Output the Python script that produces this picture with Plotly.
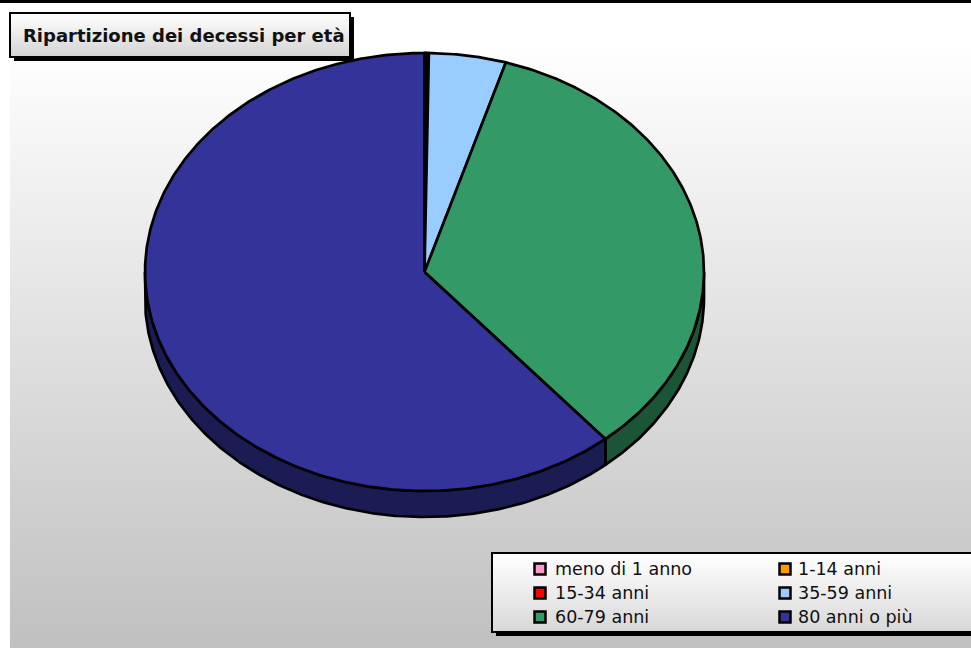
import numpy as np
import plotly.graph_objects as go

# ---------------- data ----------------
categories = ["meno di 1 anno", "1-14 anni", "15-34 anni", "35-59 anni", "60-79 anni", "80 anni o più"]
values = [0.05, 0.05, 0.15, 4.45, 34.1, 61.2]   # percent of deaths
colors = ["#FF99CC", "#FF9900", "#FF0000", "#99CCFF", "#339966", "#333399"]
side_colors = ["#8C5470", "#8C5400", "#8C0000", "#54708C", "#1C5438", "#1C1C54"]
title_text = "Ripartizione dei decessi per età"

# ---------------- geometry (pixel-mapped axes) ----------------
W, H = 971, 648
CX, CY, RX, RY, DEPTH = 424.5, 272.0, 279.5, 219.0, 26.0
LW = 2.7


def rim(theta, dy=0.0):
    theta = np.asarray(theta)
    return CX + RX * np.sin(theta), CY - RY * np.cos(theta) + dy


fracs = np.array(values, dtype=float) / float(sum(values))
ends = np.cumsum(fracs) * 2 * np.pi
starts = ends - fracs * 2 * np.pi

fig = go.Figure()

# side walls (visible lower half only)
for i in range(len(values)):
    a0 = max(starts[i], np.pi / 2)
    a1 = min(ends[i], 3 * np.pi / 2)
    if a1 <= a0:
        continue
    n = max(2, int((a1 - a0) / (2 * np.pi) * 720))
    t = np.linspace(a0, a1, n)
    xt, yt = rim(t)
    xb, yb = rim(t[::-1], DEPTH)
    xs = np.concatenate([xt, xb, xt[:1]])
    ys = np.concatenate([yt, yb, yt[:1]])
    fig.add_trace(go.Scatter(
        x=xs, y=ys, mode="lines", fill="toself", fillcolor=side_colors[i],
        line=dict(color="black", width=LW), hoverinfo="skip", showlegend=False))

# top faces
for i in range(len(values)):
    n = max(2, int(fracs[i] * 720))
    t = np.linspace(starts[i], ends[i], n)
    xt, yt = rim(t)
    xs = np.concatenate([[CX], xt, [CX]])
    ys = np.concatenate([[CY], yt, [CY]])
    fig.add_trace(go.Scatter(
        x=xs, y=ys, mode="lines", fill="toself", fillcolor=colors[i],
        line=dict(color="black", width=LW), name=categories[i],
        hovertemplate=categories[i] + ": %{text}<extra></extra>",
        text=[f"{values[i]}%"] * len(xs), showlegend=False))

shapes = []


def grey(v):
    v = int(round(max(0, min(255, v))))
    return f"rgb({v},{v},{v})"


# background gradient
top, bottom = 3, H
step = 4
for y0 in range(top, bottom, step):
    ym = y0 + step / 2
    v = 255 if ym < 45 else 255 - 63 * (ym - 45) / (H - 45)
    shapes.append(dict(type="rect", xref="x", yref="y", x0=10, x1=W, y0=y0, y1=min(y0 + step, H),
                       fillcolor=grey(v), line=dict(width=0), layer="below"))
# top black rule
shapes.append(dict(type="rect", xref="x", yref="y", x0=0, x1=W, y0=0, y1=3,
                   fillcolor="black", line=dict(width=0), layer="below"))


def box(x0, y0, x1, y1, vtop, vbot):
    out = [dict(type="rect", xref="x", yref="y", x0=x0 + 4, x1=x1 + 4, y0=y0 + 4, y1=y1 + 4,
                fillcolor="black", line=dict(width=0), layer="below")]
    nb = int(y1 - y0)
    for k in range(0, nb, 2):
        v = vtop + (vbot - vtop) * k / nb
        out.append(dict(type="rect", xref="x", yref="y", x0=x0, x1=x1, y0=y0 + k, y1=min(y0 + k + 2, y1),
                        fillcolor=grey(v), line=dict(width=0), layer="below"))
    out.append(dict(type="rect", xref="x", yref="y", x0=x0, x1=x1, y0=y0, y1=y1,
                    fillcolor="rgba(0,0,0,0)", line=dict(color="black", width=2), layer="below"))
    return out


# title box
shapes += box(10, 13, 350, 57, 255, 210)
# legend box
shapes += box(492, 553, 985, 632, 255, 215)

annotations = [dict(text="<b>" + title_text + "</b>", x=21, y=35, xref="x", yref="y",
                    xanchor="left", yanchor="middle", showarrow=False,
                    font=dict(family="DejaVu Sans", size=18, color="#111111"))]

# legend entries (2 columns x 3 rows)
col_sq = [540, 785]
col_tx = [553, 796]
row_y = [569, 593, 617]
for i, name in enumerate(categories):
    r, c = divmod(i, 2)
    sx, sy = col_sq[c], row_y[r]
    shapes.append(dict(type="rect", xref="x", yref="y", x0=sx - 5.5, x1=sx + 5.5, y0=sy - 5.5, y1=sy + 5.5,
                       fillcolor=colors[i], line=dict(color="black", width=2.5), layer="above"))
    annotations.append(dict(text=name, x=col_tx[c], y=sy, xref="x", yref="y",
                            xanchor="left", yanchor="middle", showarrow=False,
                            font=dict(family="DejaVu Sans", size=17.5, color="#111111")))

fig.update_layout(
    width=W, height=H,
    margin=dict(l=0, r=0, t=0, b=0, pad=0),
    paper_bgcolor="white", plot_bgcolor="rgba(0,0,0,0)",
    xaxis=dict(range=[0, W], visible=False, fixedrange=True, domain=[0, 1]),
    yaxis=dict(range=[H, 0], visible=False, fixedrange=True, domain=[0, 1]),
    shapes=shapes, annotations=annotations, showlegend=False,
)

fig.write_html("out.html", config={"displayModeBar": False},
               post_script="document.body.style.margin='0';document.body.style.overflow='hidden';")
